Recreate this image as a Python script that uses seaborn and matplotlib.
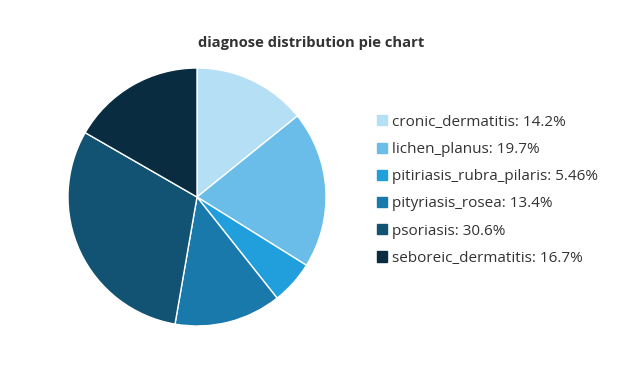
import matplotlib
matplotlib.use('Agg')
import matplotlib.pyplot as plt
import matplotlib.patches as mpatches
import seaborn as sns

diagnoses = ['cronic_dermatitis', 'lichen_planus', 'pitiriasis_rubra_pilaris',
             'pityriasis_rosea', 'psoriasis', 'seboreic_dermatitis']
shares = [14.2, 19.7, 5.46, 13.4, 30.6, 16.7]
palette_hex = ['#b5dff4', '#69bde8', '#209fdc', '#1a79ab', '#125272', '#0a2c40']

sns.set_theme(style='white')
plt.rcParams['font.family'] = ['Open Sans', 'DejaVu Sans']
colors = sns.color_palette(palette_hex)

fig = plt.figure(figsize=(6.35, 3.8), dpi=100)
ax = fig.add_axes([68 / 635, 1 - 326 / 380, 258 / 635, 258 / 380])
ax.pie(shares, colors=colors, startangle=90, counterclock=False,
       wedgeprops=dict(edgecolor='white', linewidth=1))
ax.set_xlim(-1.0, 1.0)
ax.set_ylim(-1.0, 1.0)
ax.set_aspect('equal')

fig.text(311 / 635, 1 - 43 / 380, 'diagnose distribution pie chart',
         ha='center', va='center', fontsize=10.6, fontweight='bold', color='#333333')

handles = [mpatches.Patch(color=c, label=f'{d}: {v}%')
           for d, v, c in zip(diagnoses, shares, colors)]
fig.legend(handles=handles, loc='upper left', bbox_to_anchor=(363 / 635, 1 - 101 / 380),
           frameon=False, handlelength=0.65, handleheight=0.65, handletextpad=0.35,
           labelspacing=0.8, fontsize=11, labelcolor='#333333')

fig.savefig('out.png', dpi=100)
